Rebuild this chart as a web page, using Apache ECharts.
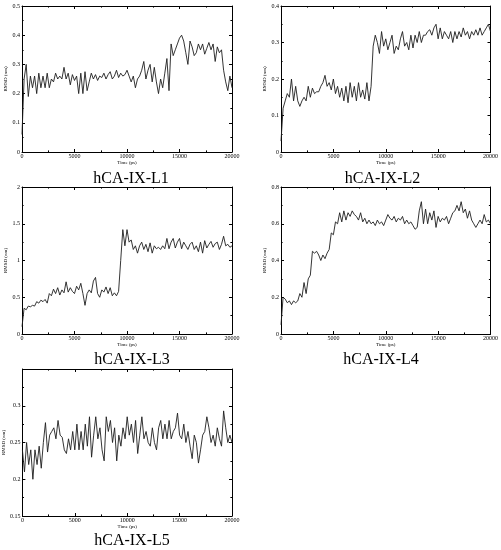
<!DOCTYPE html>
<html><head><meta charset="utf-8">
<script src="https://cdn.jsdelivr.net/npm/echarts@6/dist/echarts.min.js"></script>
<style>html,body{margin:0;padding:0;background:#fff}#c{width:501px;height:550px}</style>
</head><body><div id="c"></div>
<script>
// Sampling times (ps)
const time = [
  0,200,400,600,800,1000,1200,1400,1600,1800,
  2000,2200,2400,2600,2800,3000,3200,3400,3600,3800,
  4000,4200,4400,4600,4800,5000,5200,5400,5600,5800,
  6000,6200,6400,6600,6800,7000,7200,7400,7600,7800,
  8000,8200,8400,8600,8800,9000,9200,9400,9600,9800,
  10000,10200,10400,10600,10800,11000,11200,11400,11600,11800,
  12000,12200,12400,12600,12800,13000,13200,13400,13600,13800,
  14000,14200,14400,14600,14800,15000,15200,15400,15600,15800,
  16000,16200,16400,16600,16800,17000,17200,17400,17600,17800,
  18000,18200,18400,18600,18800,19000,19200,19400,19600,19800,
  20000
];
// RMSD (nm) per complex
const rmsdL1 = [
  0.06,0.25,0.30,0.19,0.26,0.22,0.26,0.20,0.27,0.22,
  0.26,0.22,0.27,0.22,0.25,0.24,0.27,0.25,0.26,0.25,
  0.29,0.25,0.27,0.23,0.265,0.245,0.26,0.20,0.27,0.20,
  0.275,0.21,0.24,0.27,0.25,0.265,0.245,0.26,0.255,0.27,
  0.25,0.265,0.275,0.25,0.26,0.28,0.255,0.27,0.26,0.265,
  0.28,0.26,0.24,0.26,0.22,0.25,0.26,0.28,0.31,0.25,
  0.28,0.30,0.24,0.29,0.24,0.20,0.25,0.22,0.27,0.32,
  0.21,0.37,0.33,0.35,0.37,0.39,0.40,0.38,0.34,0.30,
  0.38,0.36,0.33,0.34,0.37,0.35,0.37,0.335,0.355,0.375,
  0.35,0.37,0.31,0.36,0.34,0.35,0.28,0.24,0.21,0.26,
  0.22
];
const rmsdL2 = [
  0.03,0.12,0.14,0.16,0.15,0.20,0.14,0.18,0.14,0.125,
  0.14,0.15,0.14,0.18,0.15,0.175,0.16,0.165,0.165,0.18,
  0.19,0.21,0.18,0.19,0.17,0.20,0.16,0.18,0.15,0.175,
  0.14,0.18,0.135,0.19,0.15,0.18,0.14,0.19,0.15,0.17,
  0.145,0.19,0.14,0.18,0.29,0.32,0.30,0.27,0.33,0.29,
  0.31,0.28,0.30,0.32,0.27,0.29,0.28,0.31,0.33,0.29,
  0.30,0.28,0.32,0.285,0.32,0.30,0.33,0.30,0.32,0.32,
  0.33,0.335,0.32,0.34,0.35,0.31,0.34,0.31,0.33,0.32,
  0.31,0.33,0.30,0.33,0.31,0.33,0.315,0.34,0.32,0.33,
  0.31,0.33,0.32,0.335,0.32,0.34,0.32,0.33,0.34,0.35,
  0.33
];
const rmsdL3 = [
  0.10,0.35,0.33,0.38,0.37,0.39,0.38,0.44,0.42,0.46,
  0.44,0.47,0.42,0.55,0.52,0.61,0.55,0.63,0.53,0.60,
  0.56,0.71,0.57,0.63,0.58,0.55,0.65,0.60,0.69,0.55,
  0.39,0.55,0.60,0.56,0.72,0.77,0.55,0.50,0.60,0.57,
  0.64,0.55,0.63,0.52,0.56,0.52,0.58,1.00,1.42,1.20,
  1.42,1.25,1.28,1.15,1.20,1.10,1.20,1.25,1.15,1.22,
  1.12,1.24,1.10,1.20,1.16,1.18,1.15,1.20,1.16,1.30,
  1.16,1.25,1.30,1.17,1.25,1.30,1.16,1.25,1.20,1.15,
  1.22,1.25,1.15,1.20,1.12,1.25,1.10,1.27,1.17,1.22,
  1.26,1.18,1.23,1.25,1.15,1.22,1.33,1.20,1.22,1.18,
  1.20
];
const rmsdL4 = [
  0.05,0.20,0.19,0.17,0.18,0.16,0.18,0.17,0.18,0.22,
  0.20,0.28,0.22,0.30,0.32,0.45,0.44,0.45,0.43,0.40,
  0.43,0.41,0.44,0.46,0.55,0.54,0.61,0.60,0.66,0.61,
  0.67,0.62,0.66,0.64,0.67,0.65,0.64,0.62,0.66,0.61,
  0.63,0.60,0.62,0.60,0.61,0.59,0.62,0.60,0.61,0.59,
  0.62,0.65,0.63,0.62,0.64,0.61,0.63,0.62,0.64,0.60,
  0.62,0.60,0.61,0.59,0.57,0.58,0.67,0.72,0.60,0.68,
  0.60,0.66,0.62,0.67,0.58,0.64,0.61,0.63,0.62,0.64,
  0.60,0.63,0.66,0.67,0.70,0.67,0.72,0.66,0.68,0.63,
  0.67,0.62,0.60,0.58,0.60,0.62,0.60,0.65,0.61,0.62,
  0.60
];
const rmsdL5 = [
  0.24,0.21,0.25,0.22,0.24,0.20,0.24,0.22,0.245,0.215,
  0.25,0.277,0.237,0.26,0.265,0.27,0.255,0.28,0.26,0.257,
  0.24,0.235,0.255,0.24,0.265,0.24,0.275,0.24,0.265,0.24,
  0.275,0.245,0.285,0.23,0.26,0.285,0.255,0.27,0.24,0.225,
  0.285,0.265,0.28,0.25,0.27,0.225,0.26,0.245,0.27,0.255,
  0.285,0.26,0.275,0.25,0.28,0.235,0.26,0.285,0.255,0.265,
  0.25,0.245,0.27,0.25,0.24,0.27,0.28,0.255,0.275,0.255,
  0.28,0.255,0.265,0.27,0.29,0.26,0.255,0.275,0.25,0.265,
  0.245,0.228,0.26,0.25,0.222,0.24,0.26,0.265,0.285,0.27,
  0.25,0.26,0.245,0.27,0.255,0.245,0.293,0.27,0.25,0.26,
  0.25
];
const titles = ['hCA-IX-L1','hCA-IX-L2','hCA-IX-L3','hCA-IX-L4','hCA-IX-L5'];
const yMin  = [0, 0, 0, 0, 0.15];
const yMax  = [0.5, 0.4, 2, 0.8, 0.35];
const yStep = [0.1, 0.1, 0.5, 0.2, 0.05];
const xMin = 0, xMax = 20000, xStep = 5000;
const xName = 'Time (ps)', yName = 'RMSD (nm)';

const allSeries = [rmsdL1, rmsdL2, rmsdL3, rmsdL4, rmsdL5];

// Layout (pixels)
const grids = [
  {left:22,  top:6,   width:210, height:146},
  {left:281, top:6,   width:210, height:146},
  {left:22,  top:187, width:210, height:147},
  {left:281, top:187, width:210, height:147},
  {left:22,  top:369, width:210, height:147}
];
const titlePos = [[131,178.5],[382.5,178.5],[132,360],[381,360],[132,541]];

const FONT = '"Liberation Serif","DejaVu Serif",serif';
const lineS = {color:'#000', width:1};
const tickS = {show:true, inside:true, length:3, lineStyle:{color:'#000', width:1}};
const minorS = {show:true, splitNumber:2, length:1.6, lineStyle:{color:'#000', width:1}};
const plainNum = v => String(Math.round(v * 1000) / 1000);

const xAxes = [], yAxes = [], series = [], graphics = [];
allSeries.forEach((vals, i) => {
  xAxes.push({
    gridIndex:i, type:'value', position:'bottom', min:xMin, max:xMax, interval:xStep,
    axisLine:{show:true, onZero:false, lineStyle:lineS}, axisTick:tickS, minorTick:minorS,
    splitLine:{show:false},
    axisLabel:{show:true, fontSize:6, color:'#000', fontFamily:FONT, margin:1, formatter:plainNum},
    name:xName, nameLocation:'middle', nameGap:8,
    nameTextStyle:{fontSize:5, color:'#000', fontFamily:FONT}
  });
  xAxes.push({
    gridIndex:i, type:'value', position:'top', min:xMin, max:xMax, interval:xStep,
    axisLine:{show:true, onZero:false, lineStyle:lineS}, axisTick:tickS, minorTick:minorS,
    splitLine:{show:false}, axisLabel:{show:false}
  });
  yAxes.push({
    gridIndex:i, type:'value', position:'left', min:yMin[i], max:yMax[i], interval:yStep[i],
    axisLine:{show:true, onZero:false, lineStyle:lineS}, axisTick:tickS, minorTick:minorS,
    splitLine:{show:false},
    axisLabel:{show:true, fontSize:6, color:'#000', fontFamily:FONT, margin:2,
               formatter:plainNum, showMaxLabel: i !== 4},
    name:yName, nameLocation:'middle', nameGap:12,
    nameTextStyle:{fontSize:5, color:'#000', fontFamily:FONT}
  });
  yAxes.push({
    gridIndex:i, type:'value', position:'right', min:yMin[i], max:yMax[i], interval:yStep[i],
    axisLine:{show:true, onZero:false, lineStyle:lineS}, axisTick:tickS, minorTick:minorS,
    splitLine:{show:false}, axisLabel:{show:false}
  });
  series.push({
    type:'line', xAxisIndex:2*i, yAxisIndex:2*i, showSymbol:false, symbol:'none',
    data: time.map((t, k) => [t, vals[k]]),
    lineStyle:{color:'#1e1e1e', width:0.9}, animation:false, silent:true
  });
  graphics.push({
    type:'text', x:titlePos[i][0], y:titlePos[i][1],
    style:{text:titles[i], font:'16px "Liberation Serif", serif', fill:'#000',
           textAlign:'center', textVerticalAlign:'middle'}
  });
});

const chart = echarts.init(document.getElementById('c'), null, {renderer:'canvas'});
chart.setOption({
  animation:false,
  backgroundColor:'#fff',
  grid: grids.map(g => Object.assign({containLabel:false}, g)),
  xAxis: xAxes,
  yAxis: yAxes,
  series: series,
  graphic: graphics
});
</script>
</body></html>
